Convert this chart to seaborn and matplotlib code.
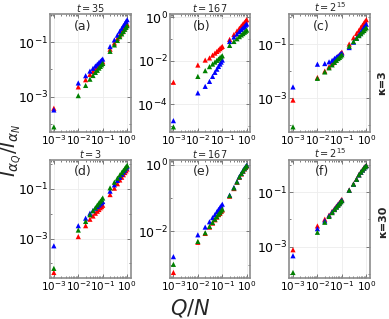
import numpy as np
import pandas as pd
import matplotlib
matplotlib.use("Agg")
import matplotlib.pyplot as plt
from matplotlib.ticker import LogLocator, NullFormatter
import seaborn as sns

# Q/N grid shared by all panels
q_over_n = [0.001, 0.01, 0.02, 0.03, 0.04, 0.05, 0.06, 0.07, 0.08, 0.09, 0.1,
            0.2, 0.3, 0.4, 0.5, 0.6, 0.7, 0.8, 0.9, 1.0]

# kappa = 3
a_red = [3.8e-4, 2.3e-3, 4.2e-3, 6.6e-3, 8.5e-3, 1.04e-2, 1.22e-2, 1.39e-2, 1.56e-2, 1.74e-2, 1.9e-2,
         5.5e-2, 9.3e-2, 0.138, 0.182, 0.234, 0.288, 0.339, 0.398, 0.457]
a_blue = [3.3e-4, 3.2e-3, 5.9e-3, 8.7e-3, 1.1e-2, 1.34e-2, 1.56e-2, 1.78e-2, 2.0e-2, 2.2e-2, 2.4e-2,
          6.9e-2, 0.12, 0.18, 0.25, 0.32, 0.40, 0.48, 0.57, 0.66]
a_green = [7.9e-5, 1.1e-3, 2.6e-3, 4.4e-3, 6.0e-3, 7.8e-3, 9.3e-3, 1.12e-2, 1.29e-2, 1.48e-2, 1.66e-2,
           4.6e-2, 7.9e-2, 0.115, 0.158, 0.20, 0.245, 0.295, 0.347, 0.40]

b_red = [1.05e-3, 6.5e-3, 1.1e-2, 1.38e-2, 1.86e-2, 2.3e-2, 2.75e-2, 3.2e-2, 3.7e-2, 4.2e-2, 4.7e-2,
         9.8e-2, 0.166, 0.24, 0.32, 0.41, 0.50, 0.59, 0.69, 0.79]
b_blue = [1.8e-5, 3.4e-4, 6.8e-4, 1.15e-3, 1.95e-3, 3.0e-3, 4.2e-3, 5.6e-3, 7.2e-3, 8.9e-3, 1.1e-2,
          7.9e-2, 0.126, 0.174, 0.229, 0.282, 0.331, 0.389, 0.447, 0.50]
b_green = [9.3e-6, 1.95e-3, 3.6e-3, 5.5e-3, 7.2e-3, 8.9e-3, 1.07e-2, 1.23e-2, 1.41e-2, 1.58e-2, 1.74e-2,
           5.2e-2, 7.9e-2, 0.105, 0.132, 0.158, 0.182, 0.209, 0.234, 0.263]

c_red = [8.5e-4, 5.8e-3, 1.0e-2, 1.45e-2, 1.95e-2, 2.45e-2, 2.95e-2, 3.5e-2, 4.0e-2, 4.5e-2, 5.0e-2,
         0.10, 0.17, 0.245, 0.32, 0.41, 0.50, 0.59, 0.69, 0.79]
c_blue = [2.6e-3, 1.8e-2, 1.9e-2, 2.2e-2, 2.5e-2, 2.95e-2, 3.3e-2, 3.6e-2, 4.0e-2, 4.3e-2, 4.6e-2,
          7.4e-2, 0.117, 0.166, 0.219, 0.275, 0.339, 0.407, 0.468, 0.537]
c_green = [8.7e-5, 5.4e-3, 9.3e-3, 1.32e-2, 1.7e-2, 2.1e-2, 2.5e-2, 2.9e-2, 3.2e-2, 3.6e-2, 4.0e-2,
           8.3e-2, 0.123, 0.162, 0.204, 0.24, 0.282, 0.316, 0.363, 0.40]

# kappa = 30
d_red = [4.3e-5, 1.2e-3, 3.3e-3, 6.0e-3, 8.1e-3, 1.05e-2, 1.26e-2, 1.48e-2, 1.74e-2, 1.95e-2, 2.2e-2,
         5.9e-2, 0.107, 0.162, 0.229, 0.295, 0.372, 0.457, 0.537, 0.63]
d_blue = [5.1e-4, 3.3e-3, 6.6e-3, 1.05e-2, 1.35e-2, 1.66e-2, 1.95e-2, 2.24e-2, 2.5e-2, 2.8e-2, 3.1e-2,
          8.1e-2, 0.145, 0.219, 0.295, 0.389, 0.479, 0.575, 0.69, 0.79]
d_green = [6.3e-5, 2.2e-3, 4.9e-3, 9.1e-3, 1.32e-2, 1.74e-2, 2.24e-2, 2.7e-2, 3.2e-2, 3.7e-2, 4.3e-2,
           0.11, 0.186, 0.27, 0.363, 0.457, 0.56, 0.66, 0.776, 0.89]

e_red = [5.8e-4, 4.7e-3, 8.7e-3, 1.35e-2, 1.78e-2, 2.24e-2, 2.7e-2, 3.2e-2, 3.5e-2, 4.0e-2, 4.4e-2,
         0.115, 0.195, 0.302, 0.427, 0.537, 0.646, 0.759, 0.851, 0.933]
e_blue = [1.74e-3, 7.9e-3, 1.35e-2, 1.95e-2, 2.6e-2, 3.2e-2, 3.9e-2, 4.6e-2, 5.2e-2, 5.9e-2, 6.6e-2,
          0.123, 0.209, 0.316, 0.447, 0.562, 0.676, 0.794, 0.891, 0.977]
e_green = [1.02e-3, 5.0e-3, 9.1e-3, 1.41e-2, 1.86e-2, 2.34e-2, 2.8e-2, 3.3e-2, 3.7e-2, 4.2e-2, 4.7e-2,
           0.12, 0.204, 0.309, 0.437, 0.55, 0.66, 0.776, 0.871, 0.955]

f_red = [7.8e-4, 5.8e-3, 1.02e-2, 1.45e-2, 2.0e-2, 2.5e-2, 3.1e-2, 3.6e-2, 4.2e-2, 4.8e-2, 5.4e-2,
         0.12, 0.20, 0.302, 0.437, 0.55, 0.66, 0.776, 0.871, 0.955]
f_blue = [4.7e-4, 4.6e-3, 8.9e-3, 1.38e-2, 1.9e-2, 2.4e-2, 2.95e-2, 3.5e-2, 4.0e-2, 4.6e-2, 5.1e-2,
          0.117, 0.195, 0.295, 0.427, 0.537, 0.646, 0.759, 0.851, 0.933]
f_green = [1.15e-4, 3.4e-3, 7.9e-3, 1.29e-2, 1.78e-2, 2.3e-2, 2.8e-2, 3.3e-2, 3.8e-2, 4.4e-2, 4.9e-2,
           0.117, 0.195, 0.295, 0.427, 0.537, 0.646, 0.759, 0.851, 0.933]

panel_letters = ["(a)", "(b)", "(c)", "(d)", "(e)", "(f)"]
panel_titles = [r"$t=35$", r"$t=167$", r"$t=2^{15}$", r"$t=3$", r"$t=167$", r"$t=2^{15}$"]
row_labels = ["κ=3", "κ=30"]
x_ticks = [1e-3, 1e-2, 1e-1, 1e0]
# labelled decades on the y axis of each panel
y_ticks = [[1e-3, 1e-1], [1e-4, 1e-2, 1e0], [1e-3, 1e-1],
           [1e-3, 1e-1], [1e-2, 1e0], [1e-3, 1e-1]]
panel_series = [
    {"red": a_red, "blue": a_blue, "green": a_green},
    {"red": b_red, "blue": b_blue, "green": b_green},
    {"red": c_red, "blue": c_blue, "green": c_green},
    {"red": d_red, "blue": d_blue, "green": d_green},
    {"red": e_red, "blue": e_blue, "green": e_green},
    {"red": f_red, "blue": f_blue, "green": f_green},
]

rows = []
for p, series in enumerate(panel_series):
    for name, vals in series.items():
        for x, y in zip(q_over_n, vals):
            rows.append({"panel": p, "series": name, "Q/N": x, "I": y})
df = pd.DataFrame(rows)

sns.set_style("whitegrid", {
    "axes.edgecolor": "0.55",
    "grid.color": "0.93",
    "xtick.direction": "in",
    "ytick.direction": "in",
    "xtick.top": True,
    "ytick.right": True,
    "xtick.bottom": True,
    "ytick.left": True,
})
plt.rcParams["font.family"] = ["DejaVu Sans"]

palette = {"red": "#ff0000", "blue": "#0000ff", "green": "#008000"}

fig, axes = plt.subplots(2, 3, figsize=(3.89, 3.19), dpi=100)
fig.subplots_adjust(left=0.129, right=0.951, top=0.955, bottom=0.129,
                    wspace=0.483, hspace=0.235)

for p, ax in enumerate(axes.flat):
    sub = df[df["panel"] == p]
    sns.scatterplot(data=sub, x="Q/N", y="I", hue="series", palette=palette,
                    hue_order=["red", "blue", "green"], marker="^", s=14,
                    linewidth=0, legend=False, ax=ax)
    ax.set_xscale("log")
    ax.set_yscale("log")
    ax.set_xticks(x_ticks)
    ax.xaxis.set_minor_locator(LogLocator(base=10, subs=np.arange(2, 10), numticks=20))
    ax.xaxis.set_minor_formatter(NullFormatter())
    ax.set_yticks(y_ticks[p])
    ax.yaxis.set_minor_locator(LogLocator(base=10, subs=(1.0,), numticks=20))
    ax.yaxis.set_minor_formatter(NullFormatter())
    ax.set_xlabel("")
    ax.set_ylabel("")
    ax.set_title(panel_titles[p], fontsize=7, pad=1.5)
    ax.text(0.4, 0.9, panel_letters[p], transform=ax.transAxes,
            ha="center", va="center", fontsize=9)
    ax.tick_params(which="both", colors="0.4", labelcolor="black", width=0.6)
    ax.tick_params(axis="x", labelsize=7.5, pad=1)
    ax.tick_params(axis="y", labelsize=9, pad=1.5)
    ax.tick_params(which="major", length=3)
    ax.tick_params(which="minor", length=1.5)
    ax.grid(True, which="major", lw=0.6)
    for sp in ax.spines.values():
        sp.set_linewidth(1.2)

fig.text(0.03, 0.53, r"$I_{\alpha_Q}/I_{\alpha_N}$", rotation=90,
         ha="center", va="center", fontsize=14)
fig.text(0.49, 0.035, r"$Q/N$", ha="center", va="center", fontsize=15)
fig.text(0.982, 0.74, row_labels[0], rotation=90, ha="center", va="center",
         fontsize=8, fontweight="bold")
fig.text(0.984, 0.305, row_labels[1], rotation=90, ha="center", va="center",
         fontsize=8, fontweight="bold")

fig.savefig("out.png", dpi=100)
